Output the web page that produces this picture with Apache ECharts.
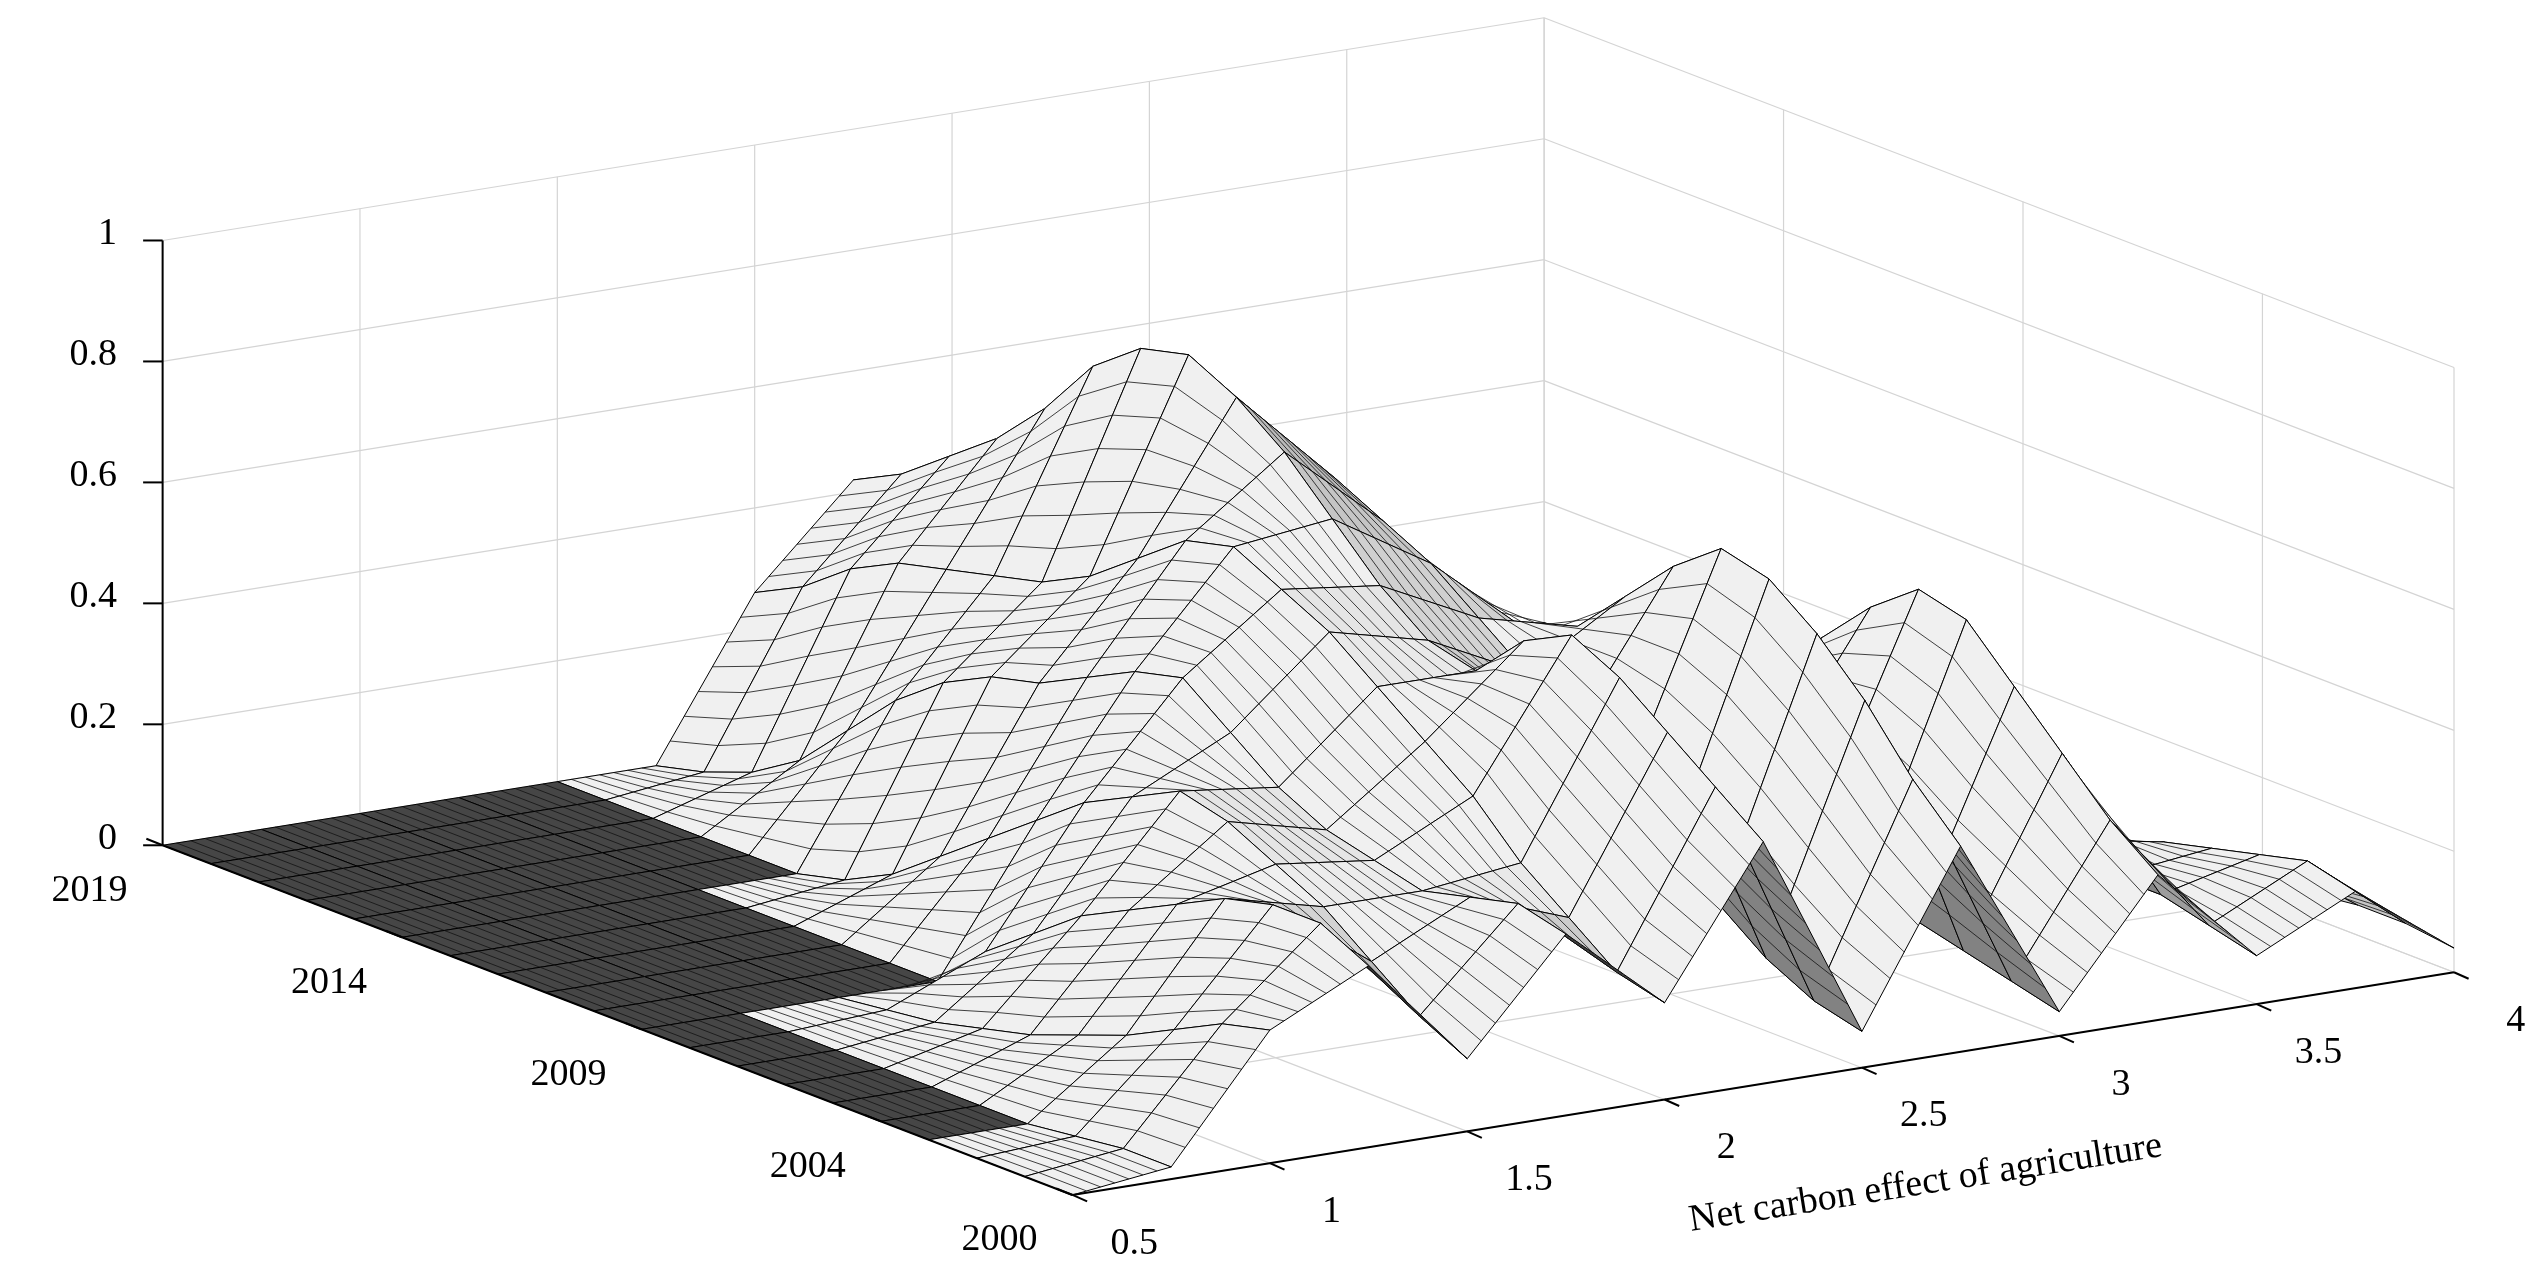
<!DOCTYPE html>
<html><head><meta charset="utf-8">
<script src="https://cdn.jsdelivr.net/npm/echarts@6/dist/echarts.min.js"></script>
<style>html,body{margin:0;background:#fff}#c{width:2548px;height:1286px}</style>
</head><body><div id="c"></div>
<script>
const xValues=[0.5,0.75,1,1.25,1.5,1.75,2,2.25,2.5,2.75,3,3.25,3.5,3.75,4];
const years=[2000,2001,2002,2003,2004,2005,2006,2007,2008,2009,2010,2011,2012,2013,2014,2015,2016,2017,2018,2019];
const density=[
[0,.02,.22,.3,.12,.3,.16,.4,.06,.34,.04,.24,.08,.16,.04],
[0,.02,.2,.34,.16,.32,.18,.46,.08,.42,.06,.3,.1,.18,.05],
[0,.01,.16,.34,.22,.3,.24,.52,.12,.52,.08,.38,.12,.16,.05],
[0,0,.12,.32,.28,.28,.3,.58,.18,.6,.1,.46,.12,.14,.04],
[0,0,.09,.28,.32,.3,.38,.62,.24,.66,.14,.54,.15,.12,.03],
[0,0,.06,.24,.36,.32,.44,.58,.3,.68,.2,.56,.2,.08,.02],
[0,0,.04,.2,.38,.36,.5,.5,.38,.62,.26,.5,.24,.06,.02],
[0,0,.02,.14,.34,.42,.56,.52,.44,.54,.3,.42,.2,.05,.01],
[0,0,.01,.08,.3,.48,.6,.58,.5,.46,.28,.34,.16,.04,.01],
[0,0,0,0,.24,.46,.64,.66,.56,.42,.26,.28,.12,.03,0],
[0,0,0,0,.18,.42,.62,.74,.6,.38,.22,.22,.1,.02,0],
[0,0,0,0,.12,.38,.56,.8,.64,.36,.2,.16,.08,.02,0],
[0,0,0,0,.06,.36,.5,.84,.66,.34,.18,.12,.06,.01,0],
[0,0,0,0,.02,.32,.46,.82,.66,.32,.16,.1,.04,.01,0],
[0,0,0,0,0,.26,.44,.76,.62,.3,.14,.08,.03,0,0],
[0,0,0,0,0,.18,.42,.66,.56,.28,.12,.06,.02,0,0],
[0,0,0,0,0,.1,.4,.58,.5,.26,.1,.05,.02,0,0],
[0,0,0,0,0,.05,.36,.52,.44,.24,.08,.04,.01,0,0],
[0,0,0,0,0,.02,.3,.46,.4,.22,.07,.03,.01,0,0],
[0,0,0,0,0,0,.26,.42,.36,.2,.06,.02,0,0,0]];
const zTicks=[0,0.2,0.4,0.6,0.8,1];
const zLabels=['0','0.2','0.4','0.6','0.8','1'];
const yearTicks=[2000,2004,2009,2014,2019];
const xTicks=[0.5,1,1.5,2,2.5,3,3.5,4];
const xTitle='Net carbon effect of agriculture';

function P(x,y,z){
  return [660+242.9*(x-0.5)-29.47*(y-2000), 735-39.14*(x-0.5)-11.32*(y-2000)-372*z];
}
const FS=38, FONT='Liberation Serif';
const chart=echarts.init(document.getElementById('c'));

const cells=[];
for(let j=years.length-2;j>=0;j--) for(let i=xValues.length-2;i>=0;i--) cells.push([j,i]);

function frame(params,api){
  const c=p=>api.coord(p);
  const L=(a,b,col,w)=>({type:'line',shape:{x1:c(a)[0],y1:c(a)[1],x2:c(b)[0],y2:c(b)[1]},style:{stroke:col,lineWidth:w}});
  const ch=[]; const g='#d4d4d4';
  for(const x of xTicks) ch.push(L(P(x,2019,0),P(x,2019,1),g,1.2));
  for(const z of zTicks) ch.push(L(P(0.5,2019,z),P(4,2019,z),g,1.2));
  for(const y of yearTicks) ch.push(L(P(4,y,0),P(4,y,1),g,1.2));
  for(const z of zTicks) ch.push(L(P(4,2000,z),P(4,2019,z),g,1.2));
  for(const x of xTicks) ch.push(L(P(x,2000,0),P(x,2019,0),g,1.2));
  for(const y of yearTicks) ch.push(L(P(0.5,y,0),P(4,y,0),g,1.2));
  return {type:'group',children:ch};
}
function axes(params,api){
  const c=p=>api.coord(p);
  const L=(a,b)=>({type:'line',shape:{x1:c(a)[0],y1:c(a)[1],x2:c(b)[0],y2:c(b)[1]},style:{stroke:'#000',lineWidth:2}});
  const T=(p,s,al)=>({type:'text',x:c(p)[0],y:c(p)[1],style:{text:s,font:FS+'px '+FONT,fill:'#000',align:al||'center',verticalAlign:'middle'}});
  const ch=[];
  ch.push(L(P(0.5,2019,0),P(0.5,2019,1)));
  ch.push(L(P(0.5,2000,0),P(0.5,2019,0)));
  ch.push(L(P(0.5,2000,0),P(4,2000,0)));
  zTicks.forEach((z,k)=>{const p=P(0.5,2019,z);ch.push(L([p[0]-12,p[1]],p));ch.push(T([p[0]-28,p[1]-4],zLabels[k],'right'));});
  yearTicks.forEach(y=>{const p=P(0.5,y,0);ch.push(L(p,[p[0]-10,p[1]-4]));ch.push(T([p[0]-45,p[1]+28],String(y),'center'));});
  xTicks.forEach(x=>{const p=P(x,2000,0);ch.push(L(p,[p[0]+9,p[1]+4]));ch.push(T([p[0]+38,p[1]+30],String(x),'center'));});
  const tp=c([1185,728]);
  ch.push({type:'text',x:tp[0],y:tp[1],rotation:0.158,style:{text:xTitle,font:FS+'px '+FONT,fill:'#000',align:'center',verticalAlign:'middle'}});
  return {type:'group',children:ch};
}
function cell(params,api){
  const j=api.value(0), i=api.value(1);
  const x0=xValues[i],x1=xValues[i+1],y0=years[j],y1=years[j+1];
  const z00=density[j][i],z10=density[j][i+1],z01=density[j+1][i],z11=density[j+1][i+1];
  const a=api.coord(P(x0,y0,z00)),b=api.coord(P(x1,y0,z10)),d=api.coord(P(x1,y1,z11)),e=api.coord(P(x0,y1,z01));
  const slope=((z10-z00)+(z11-z01))/2/(x1-x0);
  const flat=Math.max(z00,z10,z01,z11)===0;
  let gv=flat?70:Math.round(240-Math.min(110,Math.max(0,-slope)*90));
  gv=Math.max(0,Math.min(255,gv));
  const fill='rgb('+gv+','+gv+','+gv+')';
  const ch=[{type:'polygon',shape:{points:[a,b,d,e]},style:{fill:fill,stroke:'#000',lineWidth:1}}];
  const n=7;
  for(let k=1;k<n;k++){const t=k/n;
    ch.push({type:'line',shape:{x1:a[0]+(b[0]-a[0])*t,y1:a[1]+(b[1]-a[1])*t,x2:e[0]+(d[0]-e[0])*t,y2:e[1]+(d[1]-e[1])*t},style:{stroke:'#111',lineWidth:0.8}});}
  return {type:'group',children:ch};
}
chart.setOption({
  animation:false,
  grid:{left:0,right:0,top:0,bottom:0},
  xAxis:{type:'value',min:0,max:1568,show:false},
  yAxis:{type:'value',min:0,max:791,inverse:true,show:false},
  series:[
    {type:'custom',renderItem:frame,data:[[0,0]],silent:true,clip:false},
    {type:'custom',renderItem:cell,data:cells,silent:true,clip:false},
    {type:'custom',renderItem:axes,data:[[0,0]],silent:true,clip:false}
  ]
});
</script></body></html>
